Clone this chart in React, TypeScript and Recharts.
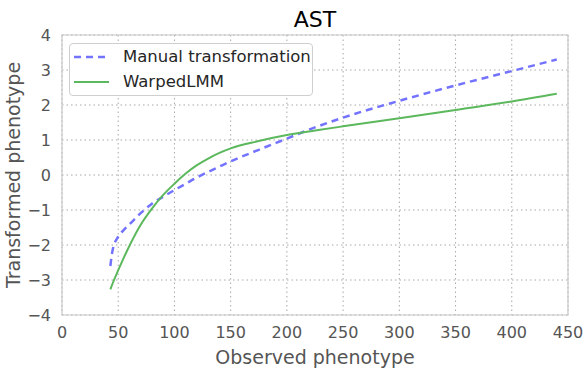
import { CartesianGrid, Label, Legend, Line, LineChart, ReferenceArea, XAxis, YAxis } from "recharts";

const observed = [43, 45, 50, 55, 60, 70, 80, 90, 100, 110, 120, 130, 140, 150, 175, 200, 225, 250, 300, 350, 400, 440];
const manual = [-2.6, -2.15, -1.76, -1.57, -1.41, -1.09, -0.82, -0.62, -0.43, -0.25, -0.07, 0.09, 0.24, 0.39, 0.72, 1.04, 1.36, 1.64, 2.12, 2.56, 2.97, 3.3];
const warped = [-3.27, -3.1, -2.72, -2.36, -2.02, -1.42, -0.96, -0.57, -0.25, 0.04, 0.28, 0.47, 0.63, 0.76, 0.97, 1.14, 1.27, 1.39, 1.62, 1.86, 2.1, 2.32];
const xTicks = [0, 50, 100, 150, 200, 250, 300, 350, 400, 450];
const yTicks = [-4, -3, -2, -1, 0, 1, 2, 3, 4];

const data = observed.map((x, i) => ({ x, manual: manual[i], warped: warped[i] }));

const font = "DejaVu Sans";
const minus = (v: number) => String(v).replace("-", "\u2212");

const LegendBox = () => (
  <div
    style={{
      width: 244,
      height: 53,
      border: "1px solid #cfcfcf",
      borderRadius: 4,
      background: "#fff",
      fontFamily: font,
      fontSize: 16.5,
      color: "#262626",
      boxSizing: "border-box",
      position: "relative",
    }}
  >
    <svg width={40} height={52} style={{ position: "absolute", left: 0, top: 0 }}>
      <line x1={4} y1={13} x2={39} y2={13} stroke="#7373ff" strokeWidth={2.5} strokeDasharray="7 5" />
      <line x1={4} y1={38} x2={39} y2={38} stroke="#5cb85c" strokeWidth={2} />
    </svg>
    <div style={{ position: "absolute", left: 53, top: 2, lineHeight: "22px" }}>Manual transformation</div>
    <div style={{ position: "absolute", left: 53, top: 27, lineHeight: "22px" }}>WarpedLMM</div>
  </div>
);

export default function App() {
  return (
    <div style={{ position: "absolute", left: 0, top: 0, width: 586, height: 370, background: "#fff" }}>
      <div
        style={{
          position: "absolute",
          left: 62,
          width: 506,
          top: 7,
          textAlign: "center",
          fontFamily: font,
          fontSize: 22,
          color: "#000",
        }}
      >
        AST
      </div>
      <LineChart width={586} height={370} data={data} margin={{ top: 35, right: 18, bottom: 0, left: 22 }}>
        <CartesianGrid stroke="#a8a8a8" strokeDasharray="1.5 3" />
        <ReferenceArea x1={0} x2={450} y1={-4} y2={4} fill="none" stroke="#c8c8c8" strokeWidth={1.2} ifOverflow="visible" />
        <XAxis
          dataKey="x"
          type="number"
          domain={[0, 450]}
          ticks={xTicks}
          axisLine={false}
          tickLine={false}
          height={55}
          tickMargin={6}
          tick={{ fontFamily: font, fontSize: 16, fill: "#555" }}
        >
          <Label value="Observed phenotype" position="insideBottom" offset={6} style={{ fontFamily: font, fontSize: 19, fill: "#555" }} />
        </XAxis>
        <YAxis
          type="number"
          domain={[-4, 4]}
          ticks={yTicks}
          axisLine={false}
          tickLine={false}
          width={40}
          tickMargin={5}
          tickFormatter={minus}
          tick={{ fontFamily: font, fontSize: 16, fill: "#555" }}
        >
          <Label
            value="Transformed phenotype"
            angle={-90}
            position="insideLeft"
            offset={-9}
            style={{ textAnchor: "middle", fontFamily: font, fontSize: 19, fill: "#555" }}
          />
        </YAxis>
        <Legend
          layout="vertical"
          verticalAlign="middle"
          align="center"
          content={() => <LegendBox />}
          wrapperStyle={{ left: 69, top: 43, width: 244 }}
        />
        <Line type="monotone" dataKey="manual" stroke="#7373ff" strokeWidth={2.5} strokeDasharray="7 5" dot={false} isAnimationActive={false} />
        <Line type="monotone" dataKey="warped" stroke="#5cb85c" strokeWidth={2} dot={false} isAnimationActive={false} />
      </LineChart>
    </div>
  );
}
